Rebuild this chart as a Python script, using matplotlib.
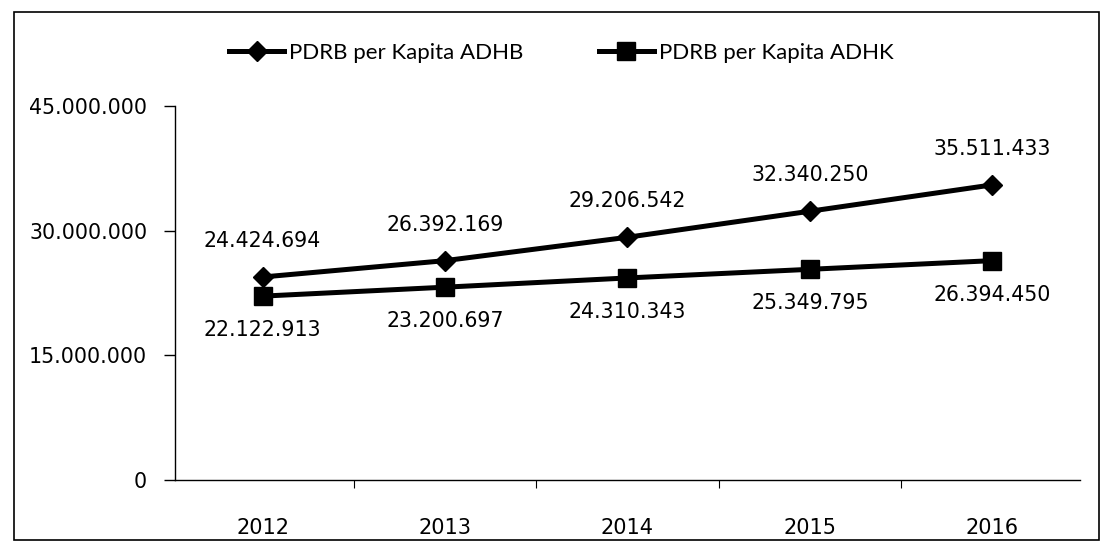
import matplotlib.pyplot as plt
from matplotlib.patches import Rectangle
from matplotlib.ticker import FuncFormatter

years = ['2012', '2013', '2014', '2015', '2016']
adhb = [24424694, 26392169, 29206542, 32340250, 35511433]
adhk = [22122913, 23200697, 24310343, 25349795, 26394450]
adhb_labels = ['24.424.694', '26.392.169', '29.206.542', '32.340.250', '35.511.433']
adhk_labels = ['22.122.913', '23.200.697', '24.310.343', '25.349.795', '26.394.450']
y_ticks = [0, 15000000, 30000000, 45000000]

plt.rcParams['font.family'] = 'DejaVu Sans'

fig = plt.figure(figsize=(11.03, 5.46), dpi=100)
ax = fig.add_axes([175 / 1103, 1 - 480 / 546, (1080 - 175) / 1103, (480 - 106) / 546])

x = list(range(len(years)))
ax.plot(x, adhb, color='black', lw=3.6, marker='D', markersize=10, label='PDRB per Kapita ADHB')
ax.plot(x, adhk, color='black', lw=3.6, marker='s', markersize=13, label='PDRB per Kapita ADHK')

# data labels: ADHB above, ADHK below
for xi, v, s in zip(x, adhb, adhb_labels):
    ax.annotate(s, (xi, v), xytext=(0, 36), textcoords='offset pixels',
                ha='center', va='center', fontsize=14.8)
for xi, v, s in zip(x, adhk, adhk_labels):
    ax.annotate(s, (xi, v), xytext=(0, -34), textcoords='offset pixels',
                ha='center', va='center', fontsize=14.8)

ax.set_xlim(-0.48, 4.48)
ax.set_ylim(0, 45000000)
ax.set_yticks(y_ticks)
ax.yaxis.set_major_formatter(FuncFormatter(lambda v, p: f'{int(v):,}'.replace(',', '.')))
ax.tick_params(axis='y', labelsize=14.8, length=8, width=1, direction='out', pad=12)

ax.set_xticks(x)
ax.set_xticklabels(years)
ax.tick_params(axis='x', labelsize=15, length=0, pad=27)
# small ticks between categories
ax.set_xticks([i + 0.5 for i in x[:-1]], minor=True)
ax.tick_params(axis='x', which='minor', length=6, width=0.8, direction='out')

for side in ['top', 'right']:
    ax.spines[side].set_visible(False)
ax.spines['left'].set_linewidth(1)
ax.spines['bottom'].set_linewidth(1)

leg = fig.legend(loc='center', bbox_to_anchor=(561 / 1103, 1 - 53 / 546), ncol=2, frameon=False,
                 handlelength=2.5, handletextpad=0.2, columnspacing=3.4,
                 prop={'family': 'Lato', 'size': 16})

# outer border of the chart
fig.patches.append(Rectangle((14 / 1103, 1 - 540 / 546), (1099 - 14) / 1103, (540 - 12) / 546,
                             transform=fig.transFigure, fill=False, edgecolor='black', lw=1.2))

fig.savefig('out.png', dpi=100)
